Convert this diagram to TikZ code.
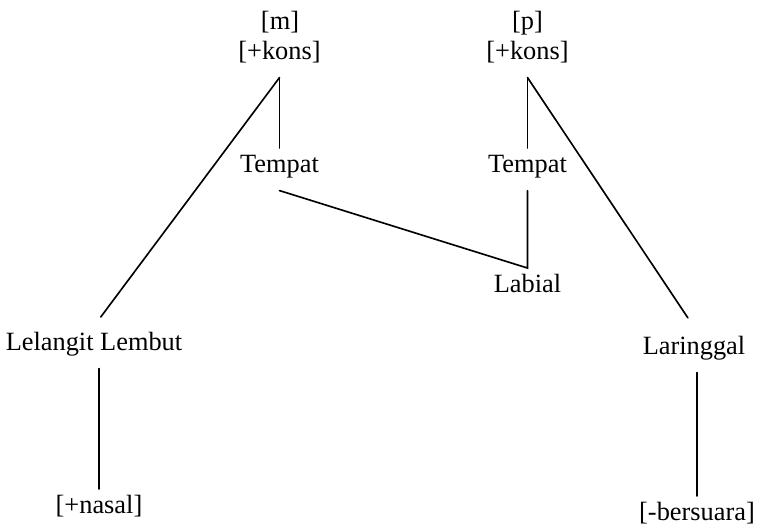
\documentclass[tikz,border=0pt]{standalone}
\usepackage{fontspec}
\setmainfont{Liberation Serif}
\usetikzlibrary{calc}
\tikzset{
  feat/.style={font=\fontsize{22.5}{27}\selectfont,inner sep=0pt,outer xsep=0pt,
    outer ysep=0.48cm,text height=0.68em,text depth=0.22em,anchor=base},
  link/.style={line width=1.4pt,line cap=round},
}
\begin{document}
\begin{tikzpicture}[x=0.03cm,y=-0.03cm]
  \useasboundingbox (0,0) rectangle (757,527);
  % segment m
  \node[feat] (mseg) at (280,29) {[m]};
  \node[feat] (mkons) at (279.5,59) {[+kons]};
  \node[feat] (tempL) at (279.5,172) {Tempat};
  \node[feat] (lelangit) at (94,350) {Lelangit Lembut};
  \node[feat] (nasal) at (99,513) {[+nasal]};
  % segment p
  \node[feat] (pseg) at (527.5,29) {[p]};
  \node[feat] (pkons) at (527.5,59) {[+kons]};
  \node[feat] (tempR) at (527.5,172) {Tempat};
  \node[feat] (labial) at (527.5,292) {Labial};
  \node[feat] (laring) at (694,354) {Laringgal};
  \node[feat] (bersuara) at (697,520) {[-bersuara]};
  % links
  \draw[link] (mkons.south) -- (tempL.north);
  \draw[link,shorten >=0.34cm] (mkons.south) -- (lelangit.north);
  \draw[link] (lelangit.south -| nasal.north) -- (nasal.north);
  \draw[link] (tempL.south) -- (labial.north) -- (tempR.south);
  \draw[link] (pkons.south) -- (tempR.north);
  \draw[link,shorten >=0.44cm] (pkons.south) -- ([xshift=0.06cm]laring.north);
  \draw[link] (laring.south -| bersuara.north) -- (bersuara.north);
\end{tikzpicture}
\end{document}
